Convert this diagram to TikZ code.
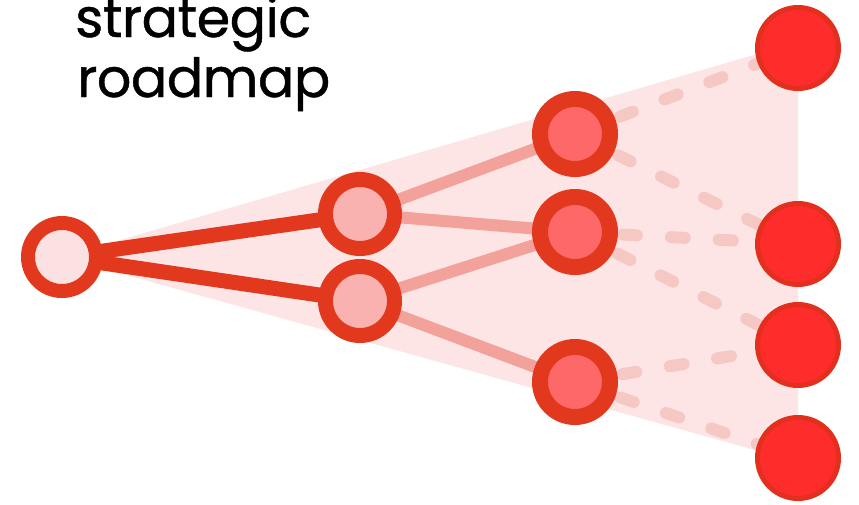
\documentclass[tikz,border=0pt]{standalone}
\usepackage{fontspec}
\setmainfont{Poppins}[FakeBold=0.8, LetterSpace=-1]
\usetikzlibrary{backgrounds}

\definecolor{ringred}{HTML}{E2391E}
\definecolor{rootfill}{HTML}{FBE1E1}
\definecolor{midfill}{HTML}{F9B2B0}
\definecolor{stagefill}{HTML}{FF6868}
\definecolor{goalfill}{HTML}{FF2C2C}
\definecolor{goalrim}{HTML}{E3301E}
\definecolor{branch}{HTML}{F2A29B}
\definecolor{future}{HTML}{F6C8C4}
\definecolor{fanfill}{HTML}{FDE5E5}

\tikzset{
  rootnode/.style={circle, inner sep=0pt, minimum size=68pt, line width=14pt, draw=ringred, fill=rootfill},
  midnode/.style={circle, inner sep=0pt, minimum size=69pt, line width=15pt, draw=ringred, fill=midfill},
  stagenode/.style={circle, inner sep=0pt, minimum size=70pt, line width=16pt, draw=ringred, fill=stagefill},
  goalnode/.style={circle, inner sep=0pt, minimum size=81pt, line width=5pt, draw=goalrim, fill=goalfill},
  trunk/.style={draw=ringred, line width=15pt},
  branchline/.style={draw=branch, line width=12pt},
  futureline/.style={draw=future, line width=12pt, line cap=round, dash pattern=on 14pt off 34pt},
  titletext/.style={anchor=base west, inner sep=0pt, font=\fontsize{54}{60}\selectfont, text=black}
}

\begin{document}
\begin{tikzpicture}[x=1pt, y=-1pt]
  \useasboundingbox (0,0) rectangle (859,504);

  % title
  \node[titletext] (title1) at (75,37) {strategic};
  \node[titletext] (title2) at (77,97) {roadmap};

  % roadmap nodes
  \node[rootnode]  (A)  at (62,257) {};
  \node[midnode]   (B1) at (360,214) {};
  \node[midnode]   (B2) at (360,301) {};
  \node[stagenode] (C1) at (575,134) {};
  \node[stagenode] (C2) at (575,232) {};
  \node[stagenode] (C3) at (575,382) {};
  \node[goalnode]  (D1) at (798,48) {};
  \node[goalnode]  (D2) at (798,244) {};
  \node[goalnode]  (D3) at (798,345) {};
  \node[goalnode]  (D4) at (798,458) {};

  \begin{scope}[on background layer]
    \fill[white] (0,0) rectangle (859,504);

    % fan of possible futures
    \coordinate (fanTop) at (798,42);
    \coordinate (fanBottom) at (798,462);
    \fill[fanfill] (A.center) -- (fanTop) -- (fanBottom) -- cycle;

    % planned future steps
    \draw[futureline] (C1.center) -- (D1.center);
    \draw[futureline] (C1.center) -- (D2.center);
    \draw[futureline] (C2.center) -- (D2.center);
    \draw[futureline] (C2.center) -- (D3.center);
    \draw[futureline] (C3.center) -- (D3.center);
    \draw[futureline] (C3.center) -- (D4.center);

    % branches
    \draw[branchline] (B1.center) -- (C1.center);
    \draw[branchline] (B1.center) -- (C2.center);
    \draw[branchline] (B2.center) -- (C2.center);
    \draw[branchline] (B2.center) -- (C3.center);

    % trunk
    \draw[trunk] (A.center) -- (B1.center);
    \draw[trunk] (A.center) -- (B2.center);
  \end{scope}
\end{tikzpicture}
\end{document}
